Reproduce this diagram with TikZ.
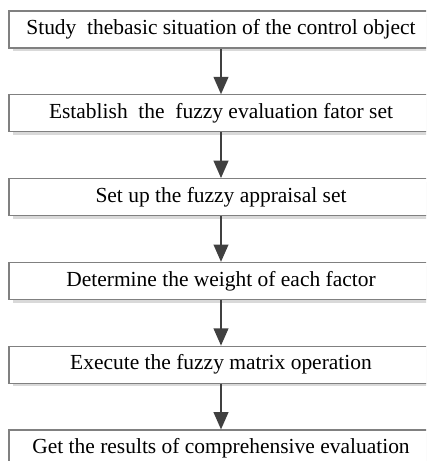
\documentclass[tikz,border=0pt]{standalone}
\usepackage{fontspec}
\setmainfont{Liberation Serif}
\usetikzlibrary{positioning,shadows,arrows.meta}

\begin{document}
\begin{tikzpicture}[x=0.75pt, y=0.75pt, node distance=34.3pt,
  stepbox/.style={draw=black!50, line width=0.8pt, fill=white,
    minimum width=318pt, minimum height=27.75pt, inner sep=0pt,
    font=\fontsize{16.1}{18}\selectfont,
    drop shadow={shadow xshift=3pt, shadow yshift=-2.4pt, fill=black!15, opacity=1}},
  flow/.style={draw=black!75, line width=1.5pt, -{Triangle[width=11pt,length=13pt]}}]
\useasboundingbox (0,0) rectangle (426,461);
\clip (0,0) rectangle (426,461);

\node [stepbox] (study) at (221,431.5) {Study\ \ thebasic situation of the control object};
\node [stepbox, below=of study] (factor) {Establish\ \ the\ \ fuzzy evaluation fator set};
\node [stepbox, below=of factor] (appraisal) {Set up the fuzzy appraisal set};
\node [stepbox, below=of appraisal] (weight) {Determine the weight of each factor};
\node [stepbox, below=of weight] (matrix) {Execute the fuzzy matrix operation};
\node [stepbox, below=of matrix] (result) {Get the results of comprehensive evaluation};

\foreach \a/\b in {study/factor, factor/appraisal, appraisal/weight, weight/matrix, matrix/result}
  \draw [flow] (\a) -- (\b);

\end{tikzpicture}
\end{document}
